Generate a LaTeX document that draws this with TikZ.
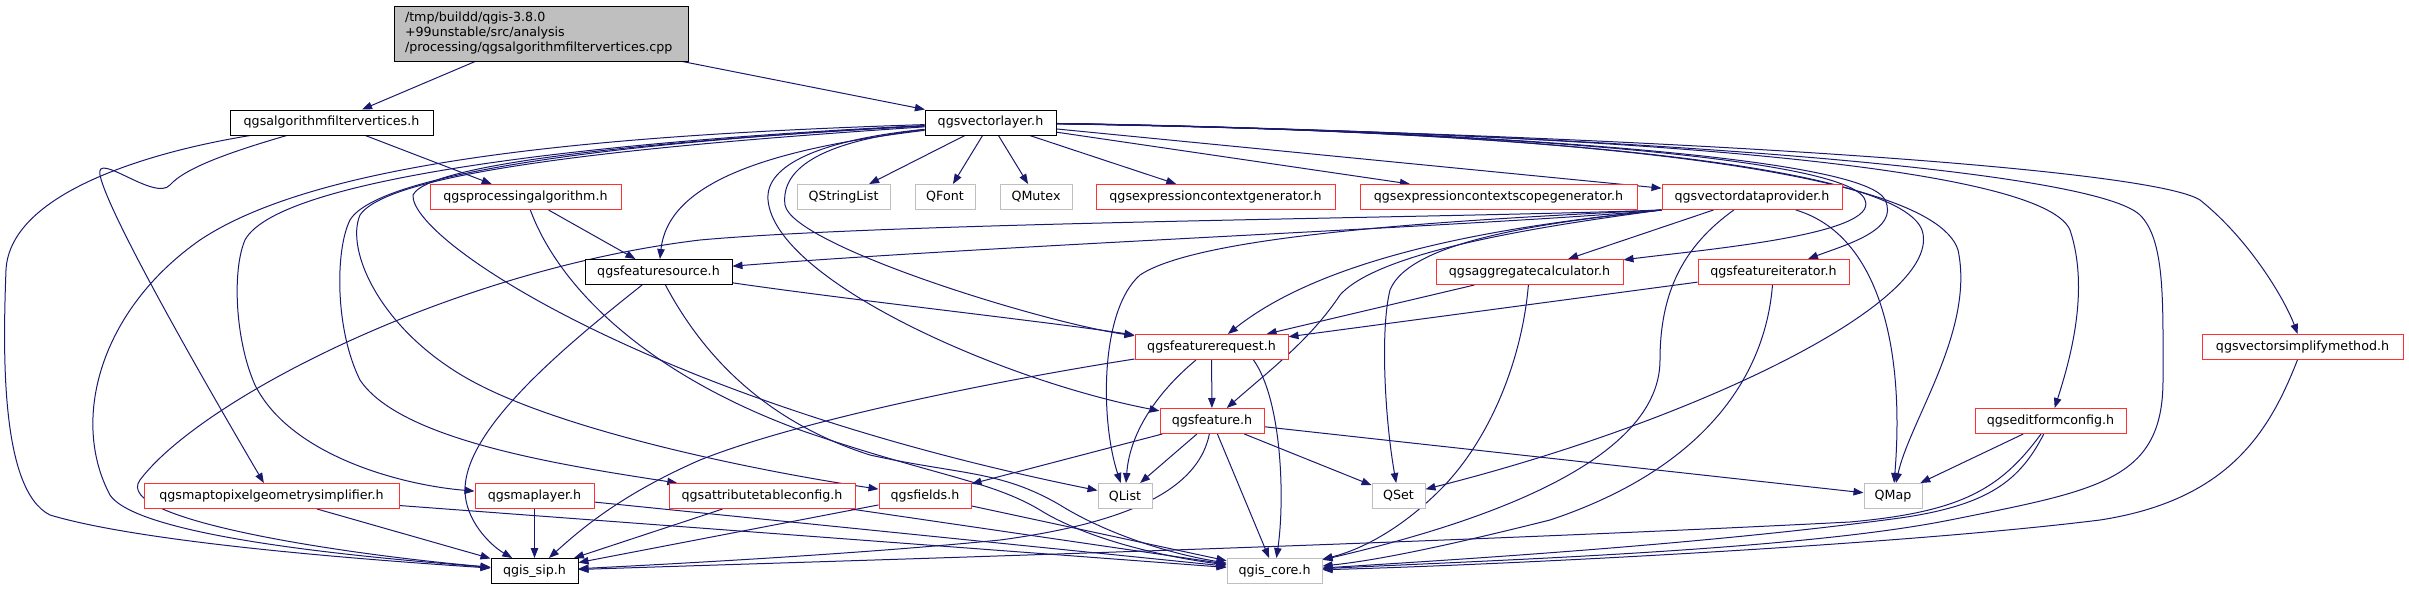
\documentclass[tikz,border=0pt]{standalone}
\usepackage{fontspec}
\setmainfont{DejaVu Sans}
\usetikzlibrary{arrows.meta,backgrounds}
\definecolor{edgeblue}{HTML}{191970}
\definecolor{trunc}{HTML}{FF3030}
\definecolor{extgrey}{HTML}{BFBFBF}
\begin{document}
\begin{tikzpicture}[x=0.75pt,y=-0.75pt,>={Triangle[length=7.5pt,width=5.6pt]},every node/.style={font=\fontsize{9.5}{11.25}\selectfont},hdr/.style={draw=black,line width=0.75pt,fill=white,minimum height=18.75pt,inner sep=0pt},part/.style={hdr,draw=trunc},ext/.style={hdr,draw=extgrey},dep/.style={->,draw=edgeblue,line width=0.75pt}]
\useasboundingbox (0,0) rectangle (2409,589);
\node[hdr,fill=extgrey,minimum width=220.5pt,minimum height=41.25pt,inner xsep=8.25pt,text width=204pt,align=left] (R) at (541,33.5) {/tmp/buildd/qgis-3.8.0\\+99unstable/src/analysis\\/processing/qgsalgorithmfiltervertices.cpp};
\node[hdr,minimum width=152.25pt] (A) at (331.5,122.5) {qgsalgorithmfiltervertices.h};
\node[hdr,minimum width=98.25pt] (VL) at (990.5,122.5) {qgsvectorlayer.h};
\node[part,minimum width=143.25pt] (PA) at (525.5,197) {qgsprocessingalgorithm.h};
\node[ext,minimum width=69.75pt] (QSL) at (843.5,197) {QStringList};
\node[ext,minimum width=45pt] (QF) at (945,197) {QFont};
\node[ext,minimum width=54pt] (QMX) at (1036,197) {QMutex};
\node[part,minimum width=179.25pt] (ECG) at (1215.5,197) {qgsexpressioncontextgenerator.h};
\node[part,minimum width=207.75pt] (ECS) at (1498.5,197) {qgsexpressioncontextscopegenerator.h};
\node[part,minimum width=135pt] (VDP) at (1752,197) {qgsvectordataprovider.h};
\node[hdr,minimum width=110.25pt] (FS) at (658.5,272) {qgsfeaturesource.h};
\node[part,minimum width=140.25pt] (AC) at (1529.5,272) {qgsaggregatecalculator.h};
\node[part,minimum width=113.25pt] (FI) at (1773.5,272) {qgsfeatureiterator.h};
\node[part,minimum width=114.75pt] (FR) at (1211.5,347) {qgsfeaturerequest.h};
\node[part,minimum width=150.75pt] (VSM) at (2302.5,347) {qgsvectorsimplifymethod.h};
\node[part,minimum width=78pt] (F) at (1212,421) {qgsfeature.h};
\node[part,minimum width=113.25pt] (EFC) at (2050.5,421) {qgseditformconfig.h};
\node[part,minimum width=191.25pt] (MTP) at (271.5,496) {qgsmaptopixelgeometrysimplifier.h};
\node[part,minimum width=89.25pt] (ML) at (534.5,496) {qgsmaplayer.h};
\node[part,minimum width=139.5pt] (ATC) at (762,496) {qgsattributetableconfig.h};
\node[part,minimum width=69pt] (FLD) at (925,496) {qgsfields.h};
\node[ext,minimum width=40.5pt] (QL) at (1125,496) {QList};
\node[ext,minimum width=39.75pt] (QS) at (1398.5,496) {QSet};
\node[ext,minimum width=43.5pt] (QM) at (1893,496) {QMap};
\node[hdr,minimum width=65.25pt] (SIP) at (534.5,571) {qgis\_sip.h};
\node[ext,minimum width=71.25pt] (CORE) at (1274.5,571) {qgis\_core.h};
\begin{scope}[on background layer]
\draw[dep](R)--(A);\draw[dep](R)--(VL);\draw[dep](A)--(PA);
\draw[dep](VL)--(QSL);\draw[dep](VL)--(QF);\draw[dep](VL)--(QMX);\draw[dep](VL)--(ECG);\draw[dep](VL)--(ECS);\draw[dep](VL)--(VDP);
\draw[dep](PA)--(FS);\draw[dep](VDP)--(AC);\draw[dep](AC)--(FR);\draw[dep](FI)--(FR);\draw[dep](FR)--(F);
\draw[dep](F)--(FLD);\draw[dep](F)--(QL);\draw[dep](F)--(QS);\draw[dep](F)--(QM);\draw[dep](F)--(CORE);
\draw[dep](EFC)--(QM);\draw[dep](MTP)--(SIP);\draw[dep](ML)--(SIP);\draw[dep](ATC)--(SIP);\draw[dep](FLD)--(SIP);
\draw[dep](FLD)--(CORE);\draw[dep](ATC)--(CORE);\draw[dep](ML)--(CORE);\draw[dep](MTP)--(CORE);
\draw[dep](A) .. controls (160,150) and (10,190) .. (6,270) .. controls (3,350) and (0,490) .. (50,515) .. controls (150,545) and (400,562) .. (SIP);
\draw[dep](A) .. controls (230,152) and (185,168) .. (170,185) .. controls (155,202) and (95,150) .. (100,175) .. controls (108,215) and (215,400) .. (MTP);
\draw[dep](VL) .. controls (760,150) and (668,185) .. (FS);
\draw[dep](VL) .. controls (820,140) and (765,165) .. (768,200) .. controls (775,280) and (1000,380) .. (F);
\draw[dep](VL) .. controls (830,140) and (780,165) .. (785,205) .. controls (792,245) and (1040,322) .. (FR);
\draw[dep](VL) .. controls (700,138) and (430,160) .. (413,195) .. controls (410,240) and (650,400) .. (QL);
\draw[dep](VL) .. controls (600,135) and (320,160) .. (200,240) .. controls (100,310) and (70,420) .. (110,495) .. controls (140,540) and (400,560) .. (SIP);
\draw[dep](VL) .. controls (620,140) and (280,175) .. (245,240) .. controls (232,270) and (235,340) .. (255,385) .. controls (290,455) and (400,485) .. (ML);
\draw[dep](VL) .. controls (650,140) and (380,170) .. (350,220) .. controls (335,250) and (335,330) .. (360,380) .. controls (400,440) and (560,465) .. (ATC);
\draw[dep](VL) .. controls (650,145) and (390,170) .. (360,215) .. controls (345,250) and (380,330) .. (470,380) .. controls (560,430) and (750,470) .. (FLD);
\draw[dep](VL) .. controls (1450,130) and (1850,155) .. (1865,200) .. controls (1880,235) and (1700,250) .. (AC);
\draw[dep](VL) .. controls (1450,130) and (1865,155) .. (1885,200) .. controls (1900,230) and (1845,245) .. (FI);
\draw[dep](VL) .. controls (1480,130) and (1895,160) .. (1922,230) .. controls (1945,300) and (1700,420) .. (QS);
\draw[dep](VL) .. controls (1500,130) and (1930,162) .. (1958,250) .. controls (1975,330) and (1910,420) .. (QM);
\draw[dep](VL) .. controls (1550,132) and (2040,160) .. (2070,230) .. controls (2090,290) and (2070,360) .. (EFC);
\draw[dep](VL) .. controls (1650,135) and (2150,168) .. (2200,200) .. controls (2250,240) and (2285,300) .. (VSM);
\draw[dep](VL) .. controls (1600,133) and (2090,168) .. (2140,215) .. controls (2165,240) and (2163,300) .. (2163,380) .. controls (2163,480) and (2100,490) .. (1950,520) .. controls (1800,550) and (1500,560) .. (CORE);
\draw[dep](VDP.south west) .. controls (1500,225) and (1000,245) .. (FS);
\draw[dep](VDP.south west) .. controls (1450,218) and (900,222) .. (700,240) .. controls (450,270) and (200,400) .. (140,480) .. controls (110,520) and (350,555) .. (SIP);
\draw[dep](VDP.south west) .. controls (1450,220) and (1200,235) .. (1140,275) .. controls (1100,310) and (1100,420) .. (QL);
\draw[dep](VDP.south west) .. controls (1550,222) and (1340,245) .. (FR);
\draw[dep](VDP.south west) .. controls (1550,225) and (1380,250) .. (1340,295) .. controls (1310,340) and (1270,370) .. (F);
\draw[dep](VDP.south west) .. controls (1550,222) and (1410,240) .. (1390,290) .. controls (1380,330) and (1385,420) .. (QS);
\draw[dep](VDP) .. controls (1685,245) and (1660,290) .. (1660,360) .. controls (1660,470) and (1450,530) .. (CORE);
\draw[dep](VDP) .. controls (1880,235) and (1905,350) .. (QM);
\draw[dep](AC) .. controls (1522,360) and (1490,440) .. (1440,490) .. controls (1400,530) and (1360,550) .. (CORE);
\draw[dep](FI) .. controls (1765,380) and (1700,470) .. (1550,520) .. controls (1450,545) and (1380,560) .. (CORE);
\draw[dep](PA) .. controls (560,290) and (650,375) .. (800,430) .. controls (930,475) and (990,480) .. (1040,510) .. controls (1080,535) and (1150,555) .. (CORE);
\draw[dep](FS) .. controls (700,350) and (760,420) .. (870,455) .. controls (960,475) and (1000,470) .. (1060,505) .. controls (1100,530) and (1160,552) .. (CORE);
\draw[dep](FS) .. controls (560,350) and (465,430) .. (465,490) .. controls (465,520) and (490,545) .. (SIP);
\draw[dep](FS) .. controls (850,300) and (1050,322) .. (FR);
\draw[dep](FR) .. controls (1160,390) and (1130,430) .. (QL);
\draw[dep]([xshift=31.5pt]FR.south) .. controls (1282,400) and (1285,500) .. (CORE);
\draw[dep](FR) .. controls (1000,380) and (800,420) .. (700,460) .. controls (620,495) and (580,530) .. (SIP);
\draw[dep](F) .. controls (1200,480) and (1150,520) .. (1000,540) .. controls (850,555) and (650,565) .. (SIP);
\draw[dep](EFC) .. controls (2020,480) and (1990,505) .. (1900,518) .. controls (1700,545) and (1450,560) .. (CORE);
\draw[dep](EFC) .. controls (2000,490) and (1960,512) .. (1850,522) .. controls (1400,545) and (800,562) .. (SIP);
\draw[dep](VSM) .. controls (2270,430) and (2230,500) .. (2100,520) .. controls (1900,545) and (1500,565) .. (CORE);
\end{scope}
\end{tikzpicture}
\end{document}
